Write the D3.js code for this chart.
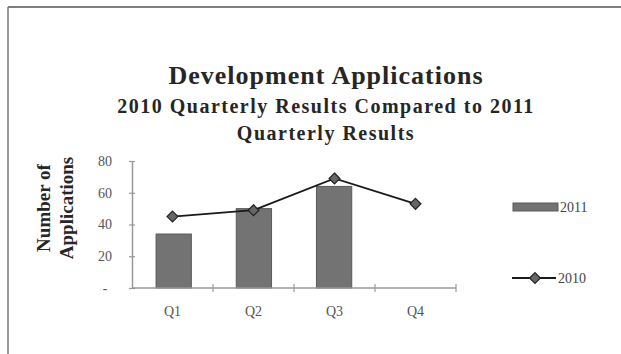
<!DOCTYPE html>
<html>
<head>
<meta charset="utf-8">
<script src="https://cdn.jsdelivr.net/npm/d3@7"></script>
<style>
  html, body { margin: 0; padding: 0; background: #fff; }
  svg { display: block; font-family: "Liberation Serif", "Times New Roman", serif; }
</style>
</head>
<body>
<svg id="chart" width="621" height="354"></svg>
<script>
// Quarterly development applications
const quarters = ["Q1", "Q2", "Q3", "Q4"];
const apps2011 = [34, 50, 64, null];
const apps2010 = [45, 49, 69, 53];
const yTicks = [0, 20, 40, 60, 80];

const svg = d3.select("#chart");
const W = 621, H = 354;

// outer frame (top and left edges)
svg.append("line").attr("x1", 8).attr("x2", W).attr("y1", 7).attr("y2", 7)
  .attr("stroke", "#555").attr("stroke-width", 1.5);
svg.append("line").attr("x1", 8).attr("x2", 8).attr("y1", 7).attr("y2", H)
  .attr("stroke", "#777").attr("stroke-width", 1.5);

// titles
const titles = svg.append("g").attr("font-weight", "bold").attr("fill", "#262626")
  .attr("text-anchor", "middle");
titles.append("text").attr("x", 326).attr("y", 84).attr("font-size", 26)
  .attr("letter-spacing", 1).text("Development Applications");
titles.append("text").attr("x", 326).attr("y", 113).attr("font-size", 20)
  .attr("letter-spacing", 1.5).text("2010 Quarterly Results Compared to 2011");
titles.append("text").attr("x", 326).attr("y", 140).attr("font-size", 20)
  .attr("letter-spacing", 1.5).text("Quarterly Results");

// y-axis title
const yt = svg.append("g").attr("transform", "translate(0,208) rotate(-90)")
  .attr("font-weight", "bold").attr("fill", "#262626").attr("font-size", 19)
  .attr("text-anchor", "middle");
yt.append("text").attr("x", 0).attr("y", 50).text("Number of");
yt.append("text").attr("x", 0).attr("y", 73).text("Applications");

// scales
const x = d3.scaleBand().domain(quarters).range([132, 456]).paddingInner(0.56).paddingOuter(0.3);
const xBand = d3.scaleBand().domain(quarters).range([132, 456]);
const y = d3.scaleLinear().domain([0, 80]).range([288, 161]);

// y axis
const yAxis = d3.axisLeft(y).tickValues(yTicks).tickSize(0).tickPadding(27)
  .tickFormat(d => d === 0 ? "-" : d);
const gy = svg.append("g").attr("transform", "translate(132,0)").call(yAxis);
gy.select(".domain").attr("stroke", "#999").attr("stroke-width", 1.5);
gy.selectAll(".tick line").remove();
gy.selectAll(".tick").append("line").attr("x1", -3).attr("x2", 3)
  .attr("stroke", "#999").attr("stroke-width", 1.2);
gy.selectAll(".tick text").attr("font-family", "Liberation Serif, serif")
  .attr("font-size", 14).attr("fill", "#555").attr("text-anchor", "middle");

// bars (2011)
svg.append("g").selectAll("rect")
  .data(quarters.map((q, i) => ({ q, v: apps2011[i] })).filter(d => d.v != null))
  .join("rect")
  .attr("x", d => x(d.q)).attr("width", x.bandwidth())
  .attr("y", d => y(d.v)).attr("height", d => y(0) - y(d.v))
  .attr("fill", "#737373").attr("stroke", "#5a5a5a").attr("stroke-width", 1);

// x axis
const gx = svg.append("g").attr("transform", `translate(0,${y(0)})`);
gx.append("line").attr("x1", xBand.range()[0]).attr("x2", xBand.range()[1])
  .attr("stroke", "#999").attr("stroke-width", 1.5);
const bounds = quarters.map(q => xBand(q)).concat([xBand.range()[1]]);
gx.selectAll("line.tk").data(bounds.slice(1)).join("line").attr("class", "tk")
  .attr("x1", d => d).attr("x2", d => d).attr("y1", -4).attr("y2", 4)
  .attr("stroke", "#999").attr("stroke-width", 1.2);
gx.selectAll("text").data(quarters).join("text")
  .attr("x", d => xBand(d) + xBand.bandwidth() / 2).attr("y", 28)
  .attr("text-anchor", "middle").attr("font-size", 14).attr("fill", "#555")
  .text(d => d);

// 2010 line with diamond markers
const pts = quarters.map((q, i) => [xBand(q) + xBand.bandwidth() / 2, y(apps2010[i])]);
svg.append("path").attr("d", d3.line()(pts)).attr("fill", "none")
  .attr("stroke", "#1a1a1a").attr("stroke-width", 1.8);
const diamond = d3.symbol().type(d3.symbolDiamond2).size(75);
svg.append("g").selectAll("path").data(pts).join("path")
  .attr("transform", d => `translate(${d[0]},${d[1]})`)
  .attr("d", diamond).attr("fill", "#666").attr("stroke", "#222").attr("stroke-width", 1.2);

// legend
const lg = svg.append("g").attr("font-size", 14).attr("fill", "#444");
lg.append("rect").attr("x", 513).attr("y", 203).attr("width", 45).attr("height", 8)
  .attr("fill", "#737373").attr("stroke", "#5a5a5a");
lg.append("text").attr("x", 560).attr("y", 212).text("2011");
lg.append("line").attr("x1", 512).attr("x2", 556).attr("y1", 278).attr("y2", 278)
  .attr("stroke", "#1a1a1a").attr("stroke-width", 1.8);
lg.append("path").attr("transform", "translate(535,278)").attr("d", diamond)
  .attr("fill", "#666").attr("stroke", "#222").attr("stroke-width", 1.2);
lg.append("text").attr("x", 558).attr("y", 283).text("2010");
</script>
</body>
</html>
